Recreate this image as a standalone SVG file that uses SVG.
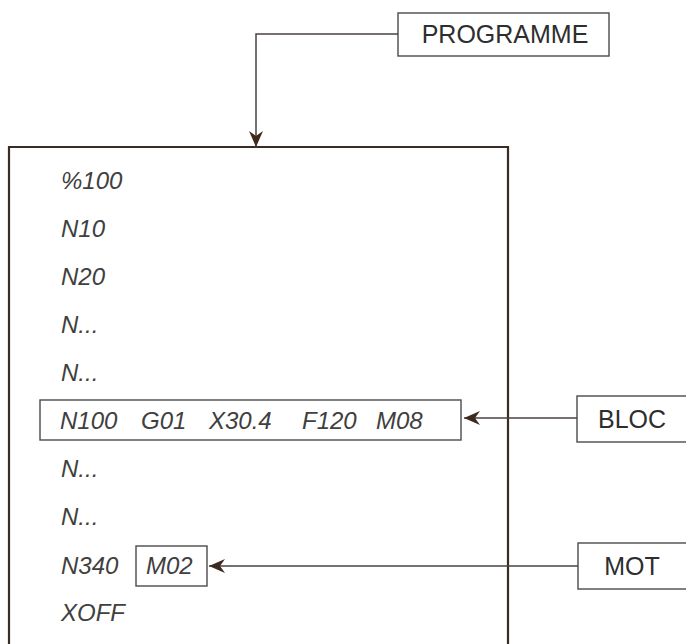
<svg xmlns="http://www.w3.org/2000/svg" width="686" height="644" viewBox="0 0 686 644">
  <defs>
    <style>
      .frame { fill: none; stroke: #3a2c24; stroke-width: 2.2; }
      .box { fill: #ffffff; stroke: #4a4a4a; stroke-width: 1.4; }
      .conn { fill: none; stroke: #4a4242; stroke-width: 1.5; }
      .code { font-family: "Liberation Sans", Arial, sans-serif; font-style: italic; font-size: 24px; fill: #404040; }
      .label { font-family: "Liberation Sans", Arial, sans-serif; font-size: 25px; fill: #2e2e2e; text-anchor: middle; }
    </style>
    <marker id="arrow" viewBox="0 0 16 14" refX="16" refY="7" markerWidth="16" markerHeight="14" markerUnits="userSpaceOnUse" orient="auto">
      <path d="M16,7 L0,0 L5,7 L0,14 Z" fill="#3d2a1e"/>
    </marker>
  </defs>
  <rect width="686" height="644" fill="#ffffff"/>

  <g id="programme-listing">
    <path class="frame" d="M9,660 L9,147 L508,147 L508,660"/>
    <text class="code" x="61" y="189">%100</text>
    <text class="code" x="61" y="237">N10</text>
    <text class="code" x="61" y="285">N20</text>
    <text class="code" x="61" y="333">N...</text>
    <text class="code" x="61" y="381">N...</text>
    <text class="code" x="61" y="477">N...</text>
    <text class="code" x="61" y="525">N...</text>
    <text class="code" x="61" y="574">N340</text>
    <text class="code" x="61" y="621">XOFF</text>
  </g>

  <g id="bloc-line">
    <rect class="box" x="40" y="400" width="421" height="40"/>
    <text class="code" y="429"><tspan x="60">N100</tspan><tspan x="141">G01</tspan><tspan x="209">X30.4</tspan><tspan x="302">F120</tspan><tspan x="376">M08</tspan></text>
  </g>

  <g id="mot-word">
    <rect class="box" x="136" y="546" width="71" height="40"/>
    <text class="code" x="146" y="574">M02</text>
  </g>

  <g id="programme">
    <rect class="box" x="398" y="13" width="211" height="43"/>
    <text class="label" x="505" y="43">PROGRAMME</text>
  </g>

  <g id="bloc">
    <rect class="box" x="577" y="396" width="115" height="46"/>
    <text class="label" x="632" y="428">BLOC</text>
  </g>

  <g id="mot">
    <rect class="box" x="578" y="543" width="114" height="46"/>
    <text class="label" x="632" y="575">MOT</text>
  </g>

  <g id="connectors">
    <path class="conn" d="M398,34 L256,34 L256,147" marker-end="url(#arrow)"/>
    <path class="conn" d="M577,418 L464,418" marker-end="url(#arrow)"/>
    <path class="conn" d="M578,566 L209,566" marker-end="url(#arrow)"/>
  </g>
</svg>
